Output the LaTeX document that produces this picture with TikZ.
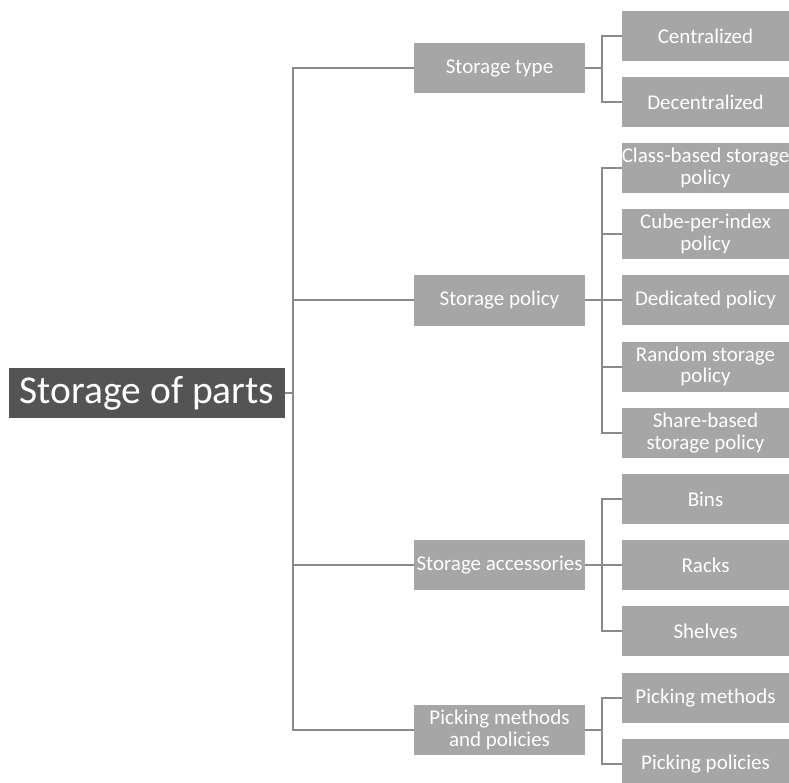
\documentclass[tikz,border=0pt]{standalone}
\usepackage{fontspec}
\setmainfont{Carlito}
% a line set at zero width, centred, so it may spill past its box
\newcommand{\spill}[1]{\makebox[0pt][c]{#1}}
\begin{document}
\begin{tikzpicture}[x=1pt,y=-1pt,
  rootbox/.style={fill=rootgray,text=white,minimum width=276pt,minimum height=50pt,
    inner sep=0pt,font=\fontsize{39.5}{40}\selectfont},
  midbox/.style={fill=boxgray,text=white,minimum width=171pt,minimum height=50pt,
    inner sep=0pt,align=center,font=\fontsize{21}{21.5}\selectfont},
  leafbox/.style={fill=boxgray,text=white,minimum width=167pt,minimum height=50pt,
    inner sep=0pt,align=center,font=\fontsize{21}{21.5}\selectfont},
  link/.style={draw=linegray,line width=2pt}]
\definecolor{rootgray}{HTML}{545454}
\definecolor{boxgray}{HTML}{A6A6A6}
\definecolor{linegray}{HTML}{8A8A8A}
\useasboundingbox (0,0) rectangle (789,783);

% root
\node[rootbox] (root) at (147,393) {Storage of parts};

% first level
\node[midbox] (ta) at (499.5,68.5) {Storage type};
\node[midbox] (tb) at (499.5,300.5) {Storage policy};
\node[midbox] (tc) at (499.5,565) {\spill{Storage accessories}};
\node[midbox] (td) at (499.5,730) {Picking methods\\and policies};

% second level
\node[leafbox] (a1) at (705.5,36) {Centralized};
\node[leafbox] (a2) at (705.5,102) {Decentralized};
\node[leafbox] (b1) at (705.5,168) {\spill{Class-based storage}\\policy};
\node[leafbox] (b2) at (705.5,234) {Cube-per-index\\policy};
\node[leafbox] (b3) at (705.5,300) {Dedicated policy};
\node[leafbox] (b4) at (705.5,366.5) {Random storage\\policy};
\node[leafbox] (b5) at (705.5,433) {Share-based\\storage policy};
\node[leafbox] (c1) at (705.5,499) {Bins};
\node[leafbox] (c2) at (705.5,565) {Racks};
\node[leafbox] (c3) at (705.5,631) {Shelves};
\node[leafbox] (d1) at (705.5,698) {Picking methods};
\node[leafbox] (d2) at (705.5,764) {Picking policies};

% trunk from the root
\coordinate (trunk) at (293,393);
\draw[link] (root.east) -- (trunk);
\draw[link] (ta.west) -| (trunk);
\draw[link] (td.west) -| (trunk);
\draw[link] (tb.west) -- (tb.west -| trunk);
\draw[link] (tc.west) -- (tc.west -| trunk);

% brackets to the leaves
\draw[link] (ta.east) -- ++(17,0) coordinate (ja);
\draw[link] (a1.west) -| (ja);
\draw[link] (a2.west) -| (ja);

\draw[link] (tb.east) -- ++(17,0) coordinate (jb);
\draw[link] (b1.west) -| (jb);
\draw[link] (b5.west) -| (jb);
\draw[link] (b2.west) -- (b2.west -| jb);
\draw[link] (b3.west) -- (b3.west -| jb);
\draw[link] (b4.west) -- (b4.west -| jb);

\draw[link] (tc.east) -- ++(17,0) coordinate (jc);
\draw[link] (c1.west) -| (jc);
\draw[link] (c3.west) -| (jc);
\draw[link] (c2.west) -- (c2.west -| jc);

\draw[link] (td.east) -- ++(17,0) coordinate (jd);
\draw[link] (d1.west) -| (jd);
\draw[link] (d2.west) -| (jd);
\end{tikzpicture}
\end{document}
